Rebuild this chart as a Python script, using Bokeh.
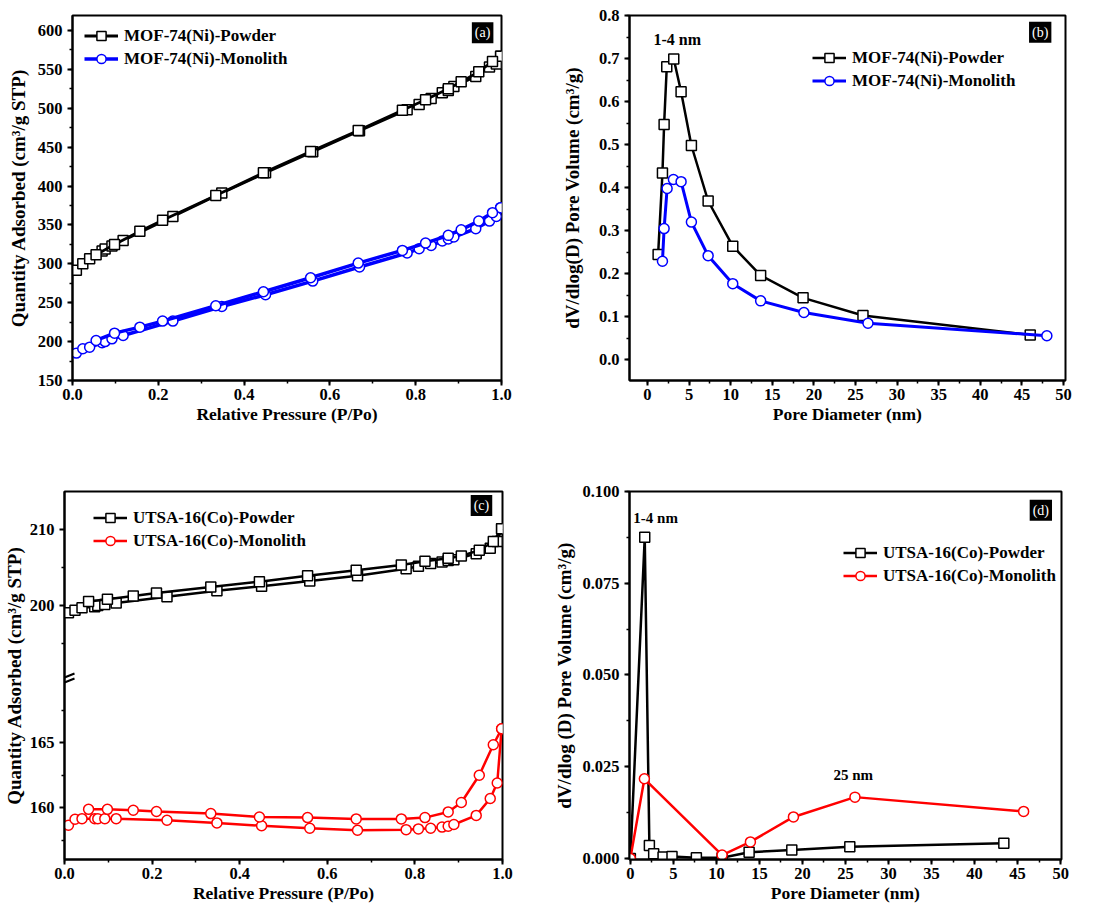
import math
from bokeh.plotting import figure
from bokeh.models import (Range1d, SingleIntervalTicker, FixedTicker, Label,
                          CustomJSTickFormatter, NumeralTickFormatter)
from bokeh.layouts import row, column
from bokeh.embed import file_html
from bokeh.resources import INLINE

FONT = "Liberation Serif"

# ---------------- data: panel (a) MOF-74(Ni) isotherms ----------------
A_P_ADS = [0.009, 0.024, 0.04, 0.069, 0.076, 0.092, 0.118, 0.234, 0.348, 0.45, 0.56,
           0.669, 0.78, 0.808, 0.836, 0.862, 0.876, 0.889, 0.94, 0.972, 0.988, 0.998]
A_P_DES = [0.998, 0.979, 0.947, 0.906, 0.876, 0.823, 0.769, 0.666, 0.555, 0.445, 0.334,
           0.21, 0.157, 0.098, 0.055]
A_POWDER_ADS = [291.6, 300.0, 306.6, 316.5, 319.0, 323.0, 330.0, 361.0, 391.0, 417.0, 444.0,
                471.0, 498.0, 505.0, 512.5, 520.0, 523.0, 528.0, 541.0, 553.0, 557.0, 567.0]
A_POWDER_DES = [567.0, 560.0, 547.0, 534.0, 525.0, 511.0, 497.5, 471.5, 444.5, 417.0, 388.0,
                356.0, 342.0, 325.0, 311.7]
A_MONO_ADS = [185.2, 190.8, 192.9, 198.5, 200.0, 203.6, 207.9, 226.4, 245.2, 260.3, 277.8,
              295.9, 313.9, 319.5, 323.7, 329.3, 332.0, 334.5, 345.2, 355.0, 361.0, 372.2]
A_MONO_DES = [372.2, 365.8, 355.0, 343.9, 336.6, 326.7, 317.3, 301.0, 282.1, 264.1, 246.1,
              226.4, 218.6, 210.9, 201.5]

# ---------------- data: panel (b) MOF-74(Ni) pore size ----------------
B_POWDER_D = [1.28, 1.8, 2.0, 2.32, 3.16, 4.04, 5.28, 7.29, 10.25, 13.6, 18.7, 25.9, 46.0]
B_POWDER_V = [0.245, 0.434, 0.547, 0.681, 0.699, 0.623, 0.498, 0.369, 0.264, 0.196, 0.144, 0.103, 0.058]
B_MONO_D = [1.8, 2.0, 2.36, 3.12, 4.04, 5.28, 7.29, 10.25, 13.6, 18.8, 26.5, 48.0]
B_MONO_V = [0.229, 0.305, 0.398, 0.419, 0.414, 0.320, 0.242, 0.177, 0.137, 0.110, 0.085, 0.056]

# ---------------- data: panel (c) UTSA-16(Co) isotherms ----------------
C_P_ADS = A_P_ADS
C_P_DES = A_P_DES
C_POWDER_ADS = [199.0, 199.35, 199.65, 199.8, 199.95, 200.1, 200.3, 201.1, 201.9, 202.5, 203.2,
                203.9, 204.8, 205.15, 205.5, 205.7, 205.9, 206.0, 206.8, 207.5, 208.4, 210.1]
C_POWDER_DES = [210.1, 208.4, 207.25, 206.5, 206.2, 205.8, 205.3, 204.6, 203.9, 203.1, 202.4,
                201.6, 201.2, 200.8, 200.5]
C_MONO_ADS = [158.64, 159.1, 159.15, 159.15, 159.15, 159.15, 159.15, 159.03, 158.82, 158.6, 158.41,
              158.26, 158.3, 158.36, 158.41, 158.5, 158.56, 158.7, 159.4, 160.7, 161.9, 166.08]
C_MONO_DES = [166.08, 164.85, 162.5, 160.4, 159.67, 159.23, 159.13, 159.13, 159.23, 159.28, 159.54,
              159.7, 159.8, 159.87, 159.87]
C_TICKS = [160, 165, 200, 210]
C_MINOR = [157.5, 162.5, 167.5, 195, 205]

# ---------------- data: panel (d) UTSA-16(Co) pore size ----------------
D_POWDER_D = [0.0, 1.67, 2.21, 2.71, 3.8, 4.84, 7.67, 10.66, 13.8, 18.76, 25.5, 43.4]
D_POWDER_V = [0.0, 0.0875, 0.0035, 0.0013, 0.0004, 0.0005, 0.0002, 0.0002, 0.0017, 0.0023, 0.0032, 0.0041]
D_MONO_D = [0.0, 1.63, 10.66, 13.95, 18.95, 26.1, 45.7]
D_MONO_V = [0.0, 0.0217, 0.0009, 0.0045, 0.0113, 0.0167, 0.0128]

# broken axis for (c): lower segment 156-170, upper segment 190.4-215
LO_MIN, LO_MAX, LO_S = 156.0, 170.0, 13.0
HI_MIN, HI_MAX, HI_S = 190.4, 215.0, 7.6
LO_TOP = (LO_MAX - LO_MIN) * LO_S


def brk(v):
    if v <= (LO_MAX + HI_MIN) / 2:
        return (v - LO_MIN) * LO_S
    return LO_TOP + (v - HI_MIN) * HI_S


def make_fig(width, height, xr, yr, bl, br, bt, bb, xlabel, ylabel, ystand):
    p = figure(width=width, height=height, x_range=xr, y_range=yr,
               min_border_left=bl, min_border_right=br, min_border_top=bt, min_border_bottom=bb,
               output_backend="svg", toolbar_location=None, tools="")
    p.background_fill_color = "white"
    p.border_fill_color = "white"
    p.outline_line_color = "black"
    p.outline_line_width = 2
    p.outline_line_alpha = 1
    p.xgrid.visible = False
    p.ygrid.visible = False
    for ax in (p.xaxis[0], p.yaxis[0]):
        ax.axis_line_width = 2
        ax.axis_line_color = "black"
        ax.major_tick_line_width = 2
        ax.minor_tick_line_width = 1.5
        ax.major_tick_in = 0
        ax.major_tick_out = 5
        ax.minor_tick_in = 0
        ax.minor_tick_out = 3
        ax.major_label_text_font = FONT
        ax.major_label_text_font_style = "bold"
        ax.major_label_text_font_size = "16.5px"
        ax.major_label_text_color = "black"
        ax.axis_label_text_font = FONT
        ax.axis_label_text_font_style = "bold"
        ax.axis_label_text_color = "black"
    p.xaxis[0].axis_label = xlabel
    p.yaxis[0].axis_label = ylabel
    p.xaxis[0].axis_label_text_font_size = "17.5px"
    p.yaxis[0].axis_label_text_font_size = "19px"
    p.xaxis[0].major_label_standoff = 3
    p.xaxis[0].axis_label_standoff = 1
    p.yaxis[0].major_label_standoff = 5
    p.yaxis[0].axis_label_standoff = ystand
    return p


def add_text(p, x, y, text, size="16px", align="left", style="bold"):
    p.add_layout(Label(x=x, y=y, text=text, text_align=align, text_baseline="middle",
                       text_font=FONT, text_font_style=style, text_font_size=size,
                       text_color="black"))


def tag(p, x, y, text):
    p.add_layout(Label(x=x, y=y, text=text, text_align="center", text_baseline="middle",
                       text_font=FONT, text_font_size="14px", text_color="white",
                       background_fill_color="black", padding=3))


def series(p, x, y, color, marker, label=None, lw=2.5):
    kw = {"legend_label": label} if label else {}
    p.line(x, y, line_color=color, line_width=lw, **kw)
    p.scatter(x, y, marker=marker, size=10, fill_color="white", line_color=color,
              line_width=1.5, **kw)


def style_legend(p, loc):
    lg = p.legend[0]
    lg.location = loc
    lg.margin = 0
    lg.padding = 0
    lg.spacing = 0
    lg.border_line_color = None
    lg.background_fill_alpha = 0
    lg.glyph_width = 34
    lg.glyph_height = 23
    lg.label_height = 23
    lg.label_standoff = 6
    lg.label_text_font = FONT
    lg.label_text_font_style = "bold"
    lg.label_text_font_size = "17px"
    lg.label_text_color = "black"


# ---------------- (a) ----------------
pa = make_fig(550, 455, Range1d(0, 1), Range1d(150, 619.3), 72, 49, 15, 75,
              "Relative Pressure (P/Po)", "Quantity Adsorbed (cm³/g STP)", 6)
pa.xaxis[0].ticker = SingleIntervalTicker(interval=0.2, num_minor_ticks=2)
pa.yaxis[0].ticker = SingleIntervalTicker(interval=50, num_minor_ticks=2)
pa.xaxis[0].formatter = NumeralTickFormatter(format="0.0")
series(pa, A_P_ADS, A_POWDER_ADS, "black", "square", "MOF-74(Ni)-Powder", lw=2.8)
series(pa, A_P_DES, A_POWDER_DES, "black", "square", lw=2.8)
series(pa, A_P_ADS, A_MONO_ADS, "#0000ff", "circle", "MOF-74(Ni)-Monolith", lw=3.5)
series(pa, A_P_DES, A_MONO_DES, "#0000ff", "circle", lw=3.5)
style_legend(pa, (12, 310))
tag(pa, 0.956, 597, "(a)")

# ---------------- (b) ----------------
pb = make_fig(550, 455, Range1d(-2.16, 50.24), Range1d(-0.048, 0.8), 79, 35, 15, 72,
              "Pore Diameter (nm)", "dV/dlog(D) Pore Volume (cm³/g)", 13)
pb.xaxis[0].ticker = SingleIntervalTicker(interval=5, num_minor_ticks=2)
pb.yaxis[0].ticker = SingleIntervalTicker(interval=0.1, num_minor_ticks=2)
pb.yaxis[0].formatter = NumeralTickFormatter(format="0.0")
series(pb, B_POWDER_D, B_POWDER_V, "black", "square", "MOF-74(Ni)-Powder")
series(pb, B_MONO_D, B_MONO_V, "#0000ff", "circle", "MOF-74(Ni)-Monolith", lw=3)
style_legend(pb, (183, 288))
tag(pb, 47.2, 0.761, "(b)")
add_text(pb, 0.72, 0.745, "1-4 nm", size="16px")

# ---------------- (c) ----------------
pc = make_fig(550, 452, Range1d(0, 1), Range1d(0, brk(HI_MAX)), 64, 48, 35, 48,
              "Relative Pressure (P/Po)", "Quantity Adsorbed (cm³/g STP)", 2)
pc.xaxis[0].ticker = SingleIntervalTicker(interval=0.2, num_minor_ticks=2)
pc.xaxis[0].formatter = NumeralTickFormatter(format="0.0")
pc.yaxis[0].ticker = FixedTicker(ticks=[brk(v) for v in C_TICKS], minor_ticks=[brk(v) for v in C_MINOR])
pc.yaxis[0].formatter = CustomJSTickFormatter(
    args=dict(lo_min=LO_MIN, lo_s=LO_S, lo_top=LO_TOP, hi_min=HI_MIN, hi_s=HI_S),
    code="""
    const v = tick <= lo_top ? tick / lo_s + lo_min : (tick - lo_top) / hi_s + hi_min;
    return Math.round(v).toString();
    """)
series(pc, C_P_ADS, [brk(v) for v in C_POWDER_ADS], "black", "square", "UTSA-16(Co)-Powder")
series(pc, C_P_DES, [brk(v) for v in C_POWDER_DES], "black", "square")
series(pc, C_P_ADS, [brk(v) for v in C_MONO_ADS], "#ff0000", "circle", "UTSA-16(Co)-Monolith")
series(pc, C_P_DES, [brk(v) for v in C_MONO_DES], "#ff0000", "circle")
style_legend(pc, (29, 307))
tag(pc, 0.952, 355, "(c)")
# axis-break mark ("//") just inside the left axis at the break position
px_x = 1.0 / 438.0  # one pixel in x data units
pc.segment(x0=[0.0, 0.0], y0=[LO_TOP - 4.5, LO_TOP + 0.5], x1=[10 * px_x, 10 * px_x],
           y1=[LO_TOP - 0.5, LO_TOP + 4.5], line_color="black", line_width=2)

# ---------------- (d) ----------------
pd_ = make_fig(551, 452, Range1d(-0.1, 50.1), Range1d(-0.0003, 0.1), 79, 40, 36, 45,
               "Pore Diameter (nm)", "dV/dlog (D) Pore Volume (cm³/g)", 4)
pd_.xaxis[0].ticker = SingleIntervalTicker(interval=5, num_minor_ticks=2)
pd_.yaxis[0].ticker = SingleIntervalTicker(interval=0.025, num_minor_ticks=2)
pd_.yaxis[0].formatter = NumeralTickFormatter(format="0.000")
series(pd_, D_POWDER_D, D_POWDER_V, "black", "square", "UTSA-16(Co)-Powder")
series(pd_, D_MONO_D, D_MONO_V, "#ff0000", "circle", "UTSA-16(Co)-Monolith")
style_legend(pd_, (214, 272))
tag(pd_, 47.7, 0.0949, "(d)")
add_text(pd_, 0.35, 0.0927, "1-4 nm", size="15px")
add_text(pd_, 23.6, 0.0227, "25 nm", size="15px")

layout = column(row(pa, pb), row(pc, pd_))
open("out.html", "w").write(file_html(layout, INLINE))
